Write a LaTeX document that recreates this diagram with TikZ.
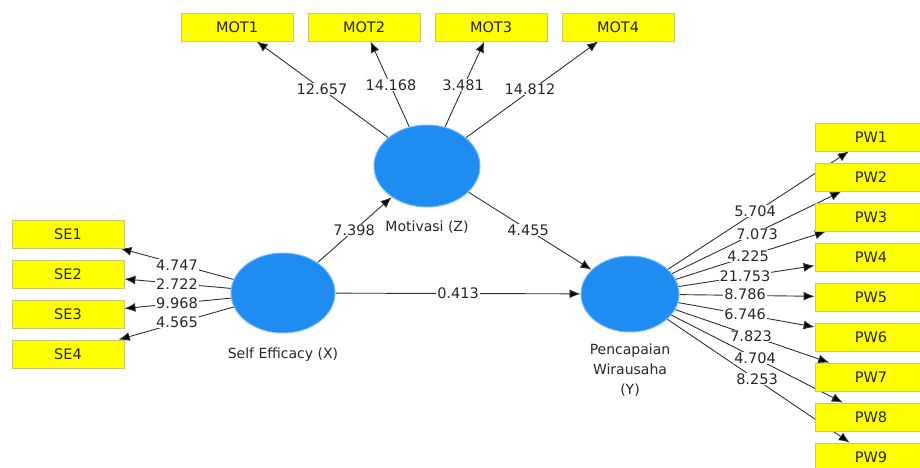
\documentclass[tikz,border=0pt]{standalone}
\usepackage{fontspec}
\setmainfont{DejaVu Sans}
\usetikzlibrary{shapes.geometric,arrows.meta}
\pgfdeclarelayer{background}
\pgfsetlayers{background,main}
\definecolor{boxyellow}{RGB}{255,255,0}
\definecolor{boxedge}{RGB}{200,200,110}
\definecolor{lvblue}{RGB}{30,140,240}
\definecolor{lvedge}{RGB}{120,185,250}
\definecolor{ink}{RGB}{40,40,40}
\definecolor{lineink}{RGB}{50,50,50}
\tikzset{
  ind/.style={rectangle, fill=boxyellow, draw=boxedge, line width=0.8pt,
    minimum width=112pt, minimum height=28pt, inner sep=0pt,
    font=\fontsize{14.5}{16}\selectfont, text=ink},
  lv/.style={ellipse, fill=lvblue, draw=lvedge, line width=1pt, inner sep=0pt},
  lvname/.style={font=\fontsize{14}{16}\selectfont, text=ink, align=center},
  lbl/.style={fill=white, inner sep=0.8pt, font=\fontsize{14.5}{16}\selectfont, text=ink},
  conn/.style={draw=lineink, line width=0.9pt, -{Latex[length=11pt,width=9pt,fill=black]}}
}
\begin{document}
\begin{tikzpicture}[x=1pt,y=-1pt]
\useasboundingbox (0,0) rectangle (920,468);
\begin{pgfonlayer}{background}
\fill[white] (0,0) rectangle (920,468);
\end{pgfonlayer}
% latent variables
\node[lv, minimum width=104pt, minimum height=80pt] (X) at (283,293) {};
\node[lv, minimum width=106pt, minimum height=82pt] (Z) at (427,166) {};
\node[lv, minimum width=98pt, minimum height=76pt] (Y) at (630,294) {};
\node[lvname] (Xn) at (283,355) {Self Efficacy (X)};
\node[lvname] (Zn) at (427,227) {Motivasi (Z)};
\node[lvname, font=\fontsize{14}{20}\selectfont] (Yn) at (630,370) {Pencapaian\\Wirausaha\\(Y)};
% indicators
\node[ind] (MOT1) at (237,27) {MOT1};
\node[ind] (MOT2) at (364,27) {MOT2};
\node[ind] (MOT3) at (491,27) {MOT3};
\node[ind] (MOT4) at (618,27) {MOT4};
\node[ind] (SE1) at (68,234) {SE1};
\node[ind] (SE2) at (68,274) {SE2};
\node[ind] (SE3) at (68,314) {SE3};
\node[ind] (SE4) at (68,354) {SE4};
\node[ind] (PW1) at (871,137) {PW1};
\node[ind] (PW2) at (871,177) {PW2};
\node[ind] (PW3) at (871,217) {PW3};
\node[ind] (PW4) at (871,257) {PW4};
\node[ind] (PW5) at (871,297) {PW5};
\node[ind] (PW6) at (871,337) {PW6};
\node[ind] (PW7) at (871,377) {PW7};
\node[ind] (PW8) at (871,417) {PW8};
\node[ind] (PW9) at (871,457) {PW9};
% connectors
\begin{pgfonlayer}{background}
\foreach \t in {MOT1,MOT2,MOT3,MOT4} \draw[conn] (Z) -- (\t);
\foreach \t in {SE1,SE2,SE3,SE4} \draw[conn] (X) -- (\t);
\foreach \t in {PW1,PW2,PW3,PW4,PW5,PW6,PW7,PW8,PW9} \draw[conn] (Y) -- (\t);
\draw[conn] (X) -- (Z);
\draw[conn] (Z) -- (Y);
\draw[conn] (X) -- (Y);
\end{pgfonlayer}
% path coefficients / t-values
\node[lbl] (lm1) at (322,89) {12.657};
\node[lbl] (lm2) at (391,85) {14.168};
\node[lbl] (lm3) at (463,85) {3.481};
\node[lbl] (lm4) at (530,89) {14.812};
\node[lbl] (ls1) at (177,265) {4.747};
\node[lbl] (ls2) at (177,284) {2.722};
\node[lbl] (ls3) at (177,303) {9.968};
\node[lbl] (ls4) at (177,322) {4.565};
\node[lbl] (lxz) at (354,230) {7.398};
\node[lbl] (lzy) at (528,230) {4.455};
\node[lbl] (lxy) at (458,293) {0.413};
\node[lbl] (lp1) at (755,211) {5.704};
\node[lbl] (lp2) at (757,234) {7.073};
\node[lbl] (lp3) at (748,256) {4.225};
\node[lbl] (lp4) at (745,276) {21.753};
\node[lbl] (lp5) at (745,294) {8.786};
\node[lbl] (lp6) at (745,314) {6.746};
\node[lbl] (lp7) at (751,336) {7.823};
\node[lbl] (lp8) at (755,358) {4.704};
\node[lbl] (lp9) at (757,379) {8.253};
\end{tikzpicture}
\end{document}
